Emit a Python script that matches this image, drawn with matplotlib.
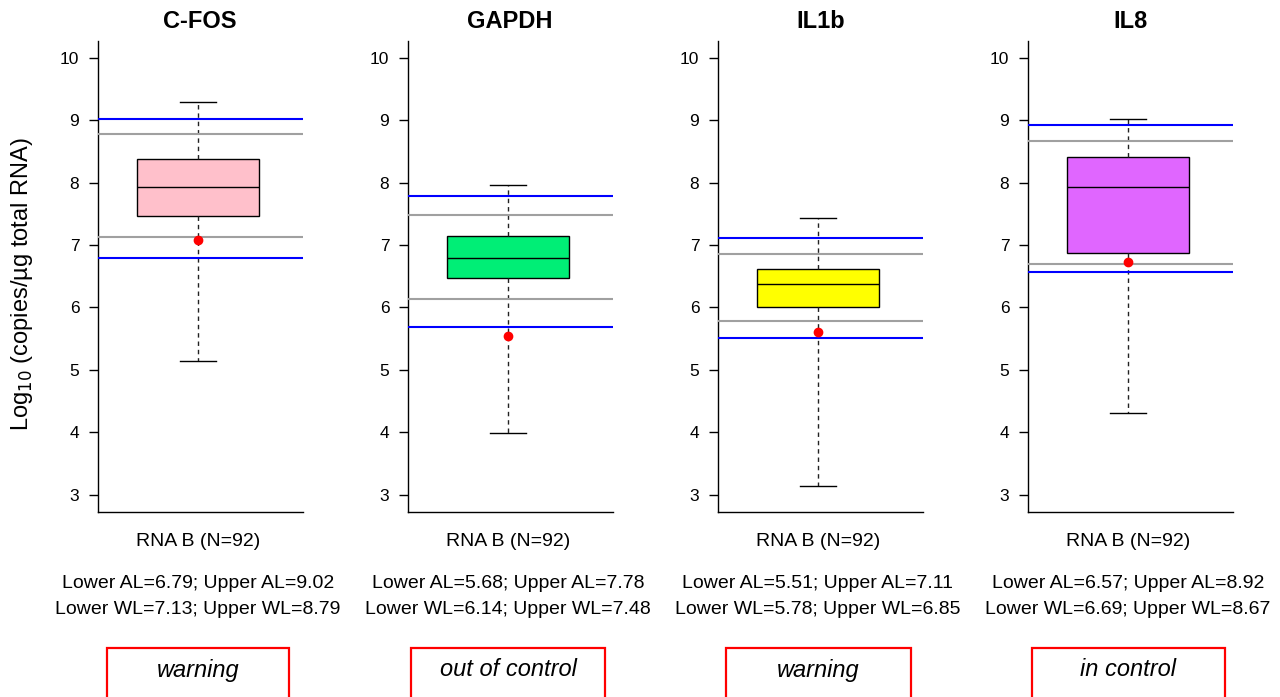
import matplotlib
matplotlib.use("Agg")
import matplotlib.pyplot as plt
import matplotlib.transforms as mtransforms
from matplotlib.patches import Rectangle

plt.rcParams['font.family'] = ['Liberation Sans', 'DejaVu Sans']

# ---- data ----
genes = ["C-FOS", "GAPDH", "IL1b", "IL8"]
group_label = "RNA B (N=92)"
whisker_low = [5.14, 3.98, 3.13, 4.30]
q1 = [7.47, 6.47, 6.01, 6.87]
median = [7.94, 6.79, 6.37, 7.94]
q3 = [8.38, 7.15, 6.61, 8.41]
whisker_high = [9.29, 7.97, 7.44, 9.03]
current_value = [7.08, 5.55, 5.61, 6.73]
lower_al = [6.79, 5.68, 5.51, 6.57]
upper_al = [9.02, 7.78, 7.11, 8.92]
lower_wl = [7.13, 6.14, 5.78, 6.69]
upper_wl = [8.79, 7.48, 6.85, 8.67]
status = ["warning", "out of control", "warning", "in control"]
box_colors = ["#FFC0CB", "#00EE76", "#FFFF00", "#E066FF"]
yticks = [3, 4, 5, 6, 7, 8, 9, 10]

# ---- layout ----
W, H = 1280, 697
fig = plt.figure(figsize=(W / 100, H / 100), dpi=100)
ax_left_px = [97.7, 407.7, 717.7, 1027.7]
ax_w_px = 205
ax_top_px, ax_bot_px = 40.6, 512
status_box_w = [182, 194, 185, 193]

for i in range(4):
    ax = fig.add_axes([ax_left_px[i] / W, 1 - ax_bot_px / H,
                       ax_w_px / W, (ax_bot_px - ax_top_px) / H])
    stats = [dict(med=median[i], q1=q1[i], q3=q3[i],
                  whislo=whisker_low[i], whishi=whisker_high[i], fliers=[])]
    ax.bxp(stats, positions=[1], widths=0.8, capwidths=0.236,
           patch_artist=True, showfliers=False,
           boxprops=dict(facecolor=box_colors[i], edgecolor="black", linewidth=1.0),
           medianprops=dict(color="black", linewidth=1.0),
           whiskerprops=dict(color="#222222", linestyle=(0, (3.2, 2.8)), linewidth=1.0),
           capprops=dict(color="black", linewidth=1.0), zorder=2)
    ax.axhline(upper_al[i], color="#0000FF", lw=1.5, zorder=3)
    ax.axhline(lower_al[i], color="#0000FF", lw=1.5, zorder=3)
    ax.axhline(upper_wl[i], color="#A0A0A0", lw=1.5, zorder=3)
    ax.axhline(lower_wl[i], color="#A0A0A0", lw=1.5, zorder=3)
    ax.plot([1], [current_value[i]], "o", color="#FF0000", ms=6, zorder=5)

    ax.set_xlim(0.342, 1.687)
    ax.set_ylim(2.72, 10.28)
    ax.set_yticks(yticks)
    ax.set_yticklabels([str(t) for t in yticks])
    ax.set_xticks([])
    for s in ["top", "right"]:
        ax.spines[s].set_visible(False)
    ax.spines["left"].set_linewidth(1.0)
    ax.spines["bottom"].set_linewidth(1.0)
    ax.tick_params(axis="y", length=6.7, width=1.0, pad=6.5, labelsize=12.5)
    ax.set_title(genes[i], fontsize=17, fontweight="bold", pad=9)

    trans = mtransforms.blended_transform_factory(ax.transData, fig.transFigure)
    fig.text(1, 1 - 541.5 / H, group_label, transform=trans, ha="center",
             va="center", fontsize=14)
    fig.text(1, 1 - 583 / H, f"Lower AL={lower_al[i]:.2f}; Upper AL={upper_al[i]:.2f}",
             transform=trans, ha="center", va="center", fontsize=14)
    fig.text(1, 1 - 609 / H, f"Lower WL={lower_wl[i]:.2f}; Upper WL={upper_wl[i]:.2f}",
             transform=trans, ha="center", va="center", fontsize=14)

    cx_px = ax_left_px[i] + 100.3
    bw = status_box_w[i]
    rect = Rectangle(((cx_px - bw / 2) / W, 1 - 720 / H), bw / W, (720 - 648) / H,
                     transform=fig.transFigure, fill=False, edgecolor="#FF0000",
                     linewidth=1.6)
    fig.patches.append(rect)
    fig.text(cx_px / W, 1 - 670 / H, status[i], ha="center", va="center",
             fontsize=17, style="italic")

fig.text(22 / W, 1 - 284 / H, r"Log$_{10}$ (copies/µg total RNA)", rotation=90,
         ha="center", va="center", fontsize=17)

fig.savefig("out.png", dpi=100)
